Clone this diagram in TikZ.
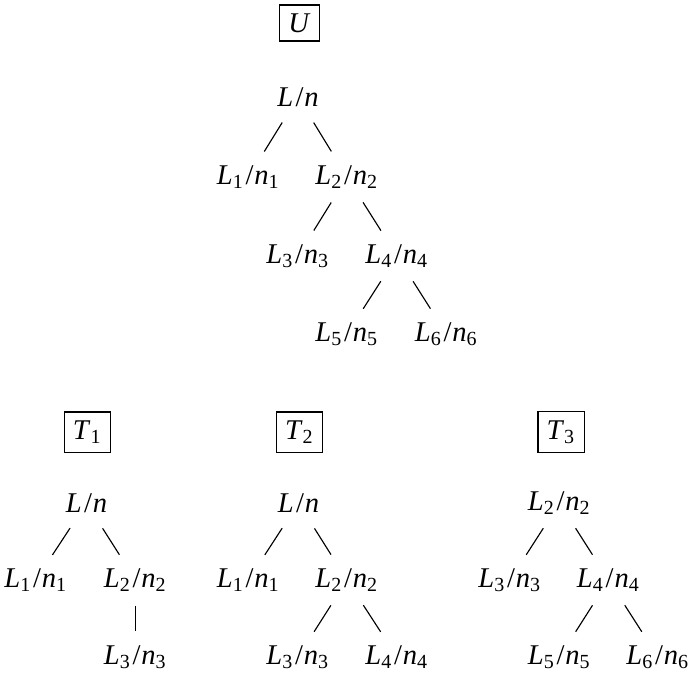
\documentclass[tikz,border=0pt]{standalone}
\usepackage{fontspec}
\setmainfont{Liberation Serif}
\usetikzlibrary{positioning}
\tikzset{
         mybox/.style={draw, inner sep=3pt},
         mylab/.style={inner sep=0pt},
         myedge/.style={shorten <=10.5pt, shorten >=10.5pt},
         mystem/.style={shorten <=9pt, shorten >=9pt}
      }
\newcommand{\Lsub}[1]{\textit{L}\textsubscript{#1}\kern0.5pt/\kern0.3pt\textit{n}\textsubscript{#1}}
\newcommand{\Lroot}{\textit{L}\kern0.8pt/\kern0.3pt\textit{n}}

\begin{document}
\begin{tikzpicture}[x=0.35pt,y=-0.35pt,thin]
  \useasboundingbox (0,0) rectangle (688,677);

  % tree U
  \node[mybox] (u) at (299.5,23) {\textit{U}};
  \node[mylab] (a0) at (298,97)    {\Lroot};
  \node[mylab] (a1) at (248.5,177) {\Lsub{1}};
  \node[mylab] (a2) at (347,177)   {\Lsub{2}};
  \node[mylab] (a3) at (298,256)   {\Lsub{3}};
  \node[mylab] (a4) at (397,256)   {\Lsub{4}};
  \node[mylab] (a5) at (347,334)   {\Lsub{5}};
  \node[mylab] (a6) at (446.5,334) {\Lsub{6}};
  \draw[myedge] (a0.center) -- (a1.center);
  \draw[myedge] (a0.center) -- (a2.center);
  \draw[myedge] (a2.center) -- (a3.center);
  \draw[myedge] (a2.center) -- (a4.center);
  \draw[myedge] (a4.center) -- (a5.center);
  \draw[myedge] (a4.center) -- (a6.center);

  % tree T1
  \node[mybox] (t1) at (87.5,432) {\textit{T}\textsubscript{1}};
  \node[mylab] (b0) at (86.5,503)  {\Lroot};
  \node[mylab] (b1) at (36,580)    {\Lsub{1}};
  \node[mylab] (b2) at (135.5,580) {\Lsub{2}};
  \node[mylab] (b3) at (135.5,657) {\Lsub{3}};
  \draw[myedge] (b0.center) -- (b1.center);
  \draw[myedge] (b0.center) -- (b2.center);
  \draw[mystem] (b2.center) -- (b3.center);

  % tree T2
  \node[mybox] (t2) at (299.5,432) {\textit{T}\textsubscript{2}};
  \node[mylab] (c0) at (298.5,503) {\Lroot};
  \node[mylab] (c1) at (248.5,580) {\Lsub{1}};
  \node[mylab] (c2) at (347,580)   {\Lsub{2}};
  \node[mylab] (c3) at (298,657)   {\Lsub{3}};
  \node[mylab] (c4) at (397,657)   {\Lsub{4}};
  \draw[myedge] (c0.center) -- (c1.center);
  \draw[myedge] (c0.center) -- (c2.center);
  \draw[myedge] (c2.center) -- (c3.center);
  \draw[myedge] (c2.center) -- (c4.center);

  % tree T3
  \node[mybox] (t3) at (561,432) {\textit{T}\textsubscript{3}};
  \node[mylab] (d0) at (559.5,503) {\Lsub{2}};
  \node[mylab] (d1) at (510,580)   {\Lsub{3}};
  \node[mylab] (d2) at (608.6,580) {\Lsub{4}};
  \node[mylab] (d3) at (559.5,657) {\Lsub{5}};
  \node[mylab] (d4) at (658,657)   {\Lsub{6}};
  \draw[myedge] (d0.center) -- (d1.center);
  \draw[myedge] (d0.center) -- (d2.center);
  \draw[myedge] (d2.center) -- (d3.center);
  \draw[myedge] (d2.center) -- (d4.center);
\end{tikzpicture}
\end{document}
